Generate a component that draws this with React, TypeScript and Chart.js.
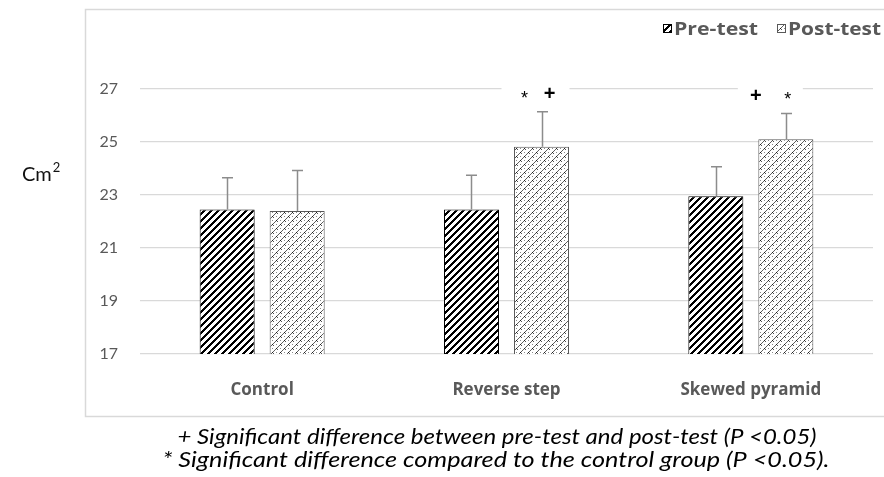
import React, { useEffect, useRef } from "react";
import { Chart, registerables } from "chart.js";

Chart.register(...registerables);

const categories = ["Control", "Reverse step", "Skewed pyramid"];
const seriesNames = ["Pre-test", "Post-test"];
const preTest = [22.45, 22.45, 22.95];
const postTest = [22.4, 24.82, 25.1];
const preErr = [1.2, 1.3, 1.12];
const postErr = [1.52, 1.32, 0.98];
const yMin = 17;
const yMax = 27;
const yStep = 2;
// significance marks per category (drawn above the post-test bar)
const sigMarks = [[], ["*", "+"], ["+", "*"]];
const yLabel = "Cm";
const yLabelSup = "2";
const footnotes = [
  "+ Significant difference between pre-test and post-test (P <0.05)",
  "* Significant difference compared to the control group (P <0.05).",
];

function makeTile(fn: (x: number, y: number) => number[] | null, size = 8) {
  const c = document.createElement("canvas");
  c.width = size;
  c.height = size;
  const g = c.getContext("2d")!;
  const img = g.createImageData(size, size);
  for (let y = 0; y < size; y++) {
    for (let x = 0; x < size; x++) {
      const col = fn(x, y) || [255, 255, 255];
      const i = (y * size + x) * 4;
      img.data[i] = col[0];
      img.data[i + 1] = col[1];
      img.data[i + 2] = col[2];
      img.data[i + 3] = 255;
    }
  }
  g.putImageData(img, 0, 0);
  return c;
}

export default function App() {
  const ref = useRef<HTMLCanvasElement>(null);
  useEffect(() => {
    const canvas = ref.current!;
    const ctx = canvas.getContext("2d")!;
    const preTile = makeTile((x, y) => ((x + y) % 7 < 3 ? [0, 0, 0] : null), 7);
    const postTile = makeTile((x, y) => {
      const s = (x + y) % 8;
      const d = (x - y + 16) % 8;
      if (s === 0) return d === 0 ? [30, 30, 30] : [95, 95, 95];
      if (d === 0 && s <= 3) return [85, 85, 85];
      if (s === 4 && d === 4) return [140, 140, 140];
      return null;
    });
    const prePattern = ctx.createPattern(preTile, "repeat")!;
    const postPattern = ctx.createPattern(postTile, "repeat")!;

    const overlay = {
      id: "overlay",
      beforeDraw(chart: any) {
        const c = chart.ctx;
        c.save();
        c.fillStyle = "#ffffff";
        c.fillRect(0, 0, chart.width, chart.height);
        c.strokeStyle = "#d9d9d9";
        c.lineWidth = 1.5;
        c.strokeRect(85.5, 9.5, chart.width + 10, 407);
        c.restore();
      },
      afterDatasetsDraw(chart: any) {
        const c = chart.ctx;
        const ys = chart.scales.y;
        const errs = [preErr, postErr];
        const vals = [preTest, postTest];
        c.save();
        // error bars
        c.strokeStyle = "#8c8c8c";
        c.lineWidth = 1.5;
        for (let d = 0; d < 2; d++) {
          const meta = chart.getDatasetMeta(d);
          meta.data.forEach((bar: any, i: number) => {
            const top = ys.getPixelForValue(vals[d][i] + errs[d][i]);
            const x = Math.round(bar.x) + 0.5;
            c.beginPath();
            c.moveTo(x, bar.y);
            c.lineTo(x, top);
            c.moveTo(x - 5.5, top);
            c.lineTo(x + 5.5, top);
            c.stroke();
          });
        }
        // significance marks
        const postMeta = chart.getDatasetMeta(1);
        sigMarks.forEach((marks, i) => {
          if (!marks.length) return;
          const bar = postMeta.data[i];
          const top = ys.getPixelForValue(postTest[i] + postErr[i]);
          const ty = top - 16;
          const first = marks[0];
          const offs = first === "*" ? [-17, 8] : [-30, 2];
          const boxL = first === "*" ? -40 : -48;
          const boxR = first === "*" ? 28 : 17;
          c.fillStyle = "#ffffff";
          c.fillRect(bar.x + boxL, ty - 12, boxR - boxL, 20);
          marks.forEach((m, k) => {
            c.fillStyle = "#000000";
            c.textAlign = "center";
            c.textBaseline = "middle";
            if (m === "+") {
              c.font = "bold 20px 'Liberation Sans'";
              c.fillText(m, bar.x + offs[k], ty - 1);
            } else {
              c.font = "18px 'Liberation Sans'";
              c.fillText(m, bar.x + offs[k], ty + 3);
            }
          });
        });
        // legend
        const legX = [663, 777];
        const legW = [84, 93];
        const pats = [prePattern, postPattern];
        c.font = "bold 18px 'Open Sans'";
        c.textAlign = "left";
        c.textBaseline = "middle";
        seriesNames.forEach((n, k) => {
          c.fillStyle = pats[k];
          c.fillRect(legX[k], 24, 9, 9);
          c.strokeStyle = k === 0 ? "#000" : "#595959";
          c.lineWidth = 1;
          c.strokeRect(legX[k] + 0.5, 24.5, 8, 8);
          c.fillStyle = "#595959";
          const w = c.measureText(n).width;
          c.save();
          c.translate(legX[k] + 11, 30);
          c.scale(legW[k] / w, 1);
          c.fillText(n, 0, 0);
          c.restore();
        });
        // y label
        c.fillStyle = "#111";
        c.font = "20px Lato";
        c.textAlign = "left";
        c.textBaseline = "alphabetic";
        c.fillText(yLabel, 22, 181);
        const cw = c.measureText(yLabel).width;
        c.font = "13px Lato";
        c.fillText(yLabelSup, 22 + cw + 1, 172);
        // footnotes
        c.fillStyle = "#000";
        c.font = "italic 21px Lato";
        c.textAlign = "center";
        const widths = [639, 667];
        const centers = [497, 496];
        const bases = [444, 467];
        footnotes.forEach((t, k) => {
          const w = c.measureText(t).width;
          c.save();
          c.translate(centers[k], bases[k]);
          c.scale(widths[k] / w, 1);
          c.fillText(t, 0, 0);
          c.restore();
        });
        c.restore();
      },
    };

    const chart = new Chart(canvas, {
      type: "bar",
      data: {
        labels: categories,
        datasets: [
          {
            label: seriesNames[0],
            data: preTest,
            backgroundColor: prePattern,
            borderColor: "#000000",
            borderWidth: 1,
          },
          {
            label: seriesNames[1],
            data: postTest,
            backgroundColor: postPattern,
            borderColor: "#595959",
            borderWidth: 1,
          },
        ],
      },
      options: {
        responsive: false,
        animation: false,
        layout: { padding: { left: 85, right: 11, top: 89, bottom: 60 } },
        datasets: {
          bar: { categoryPercentage: 0.573, barPercentage: 0.786 },
        },
        plugins: {
          legend: { display: false },
          tooltip: { enabled: false },
        },
        scales: {
          x: {
            grid: { display: false, drawTicks: false },
            border: { display: false },
            ticks: {
              color: "#595959",
              font: { family: "'Open Sans'", size: 17, weight: "bold" },
              padding: 26,
            },
            afterFit: (s: any) => {
              s.height = 63;
            },
          },
          y: {
            min: yMin,
            max: yMax,
            grid: { color: "#d9d9d9", drawTicks: false, lineWidth: 1.2 },
            border: { display: false },
            ticks: {
              stepSize: yStep,
              color: "#595959",
              font: { family: "Lato", size: 16 },
              padding: 22,
            },
            afterFit: (s: any) => {
              s.width = 55;
            },
          },
        },
      },
      plugins: [overlay],
    });
    return () => chart.destroy();
  }, []);
  return (
    <div style={{ position: "absolute", left: 0, top: 0, width: 884, height: 477 }}>
      <canvas ref={ref} width={884} height={477} style={{ display: "block" }} />
    </div>
  );
}
